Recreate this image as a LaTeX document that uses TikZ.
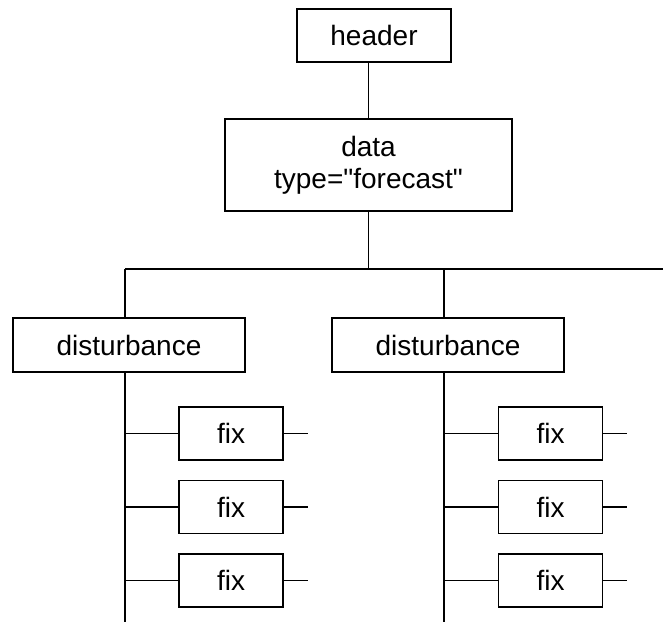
\documentclass[tikz,border=0pt]{standalone}
\usepackage{fontspec}
\newfontfamily\boxfont{Liberation Sans}
\usetikzlibrary{positioning}

\begin{document}
\begin{tikzpicture}[x=1pt,y=1pt,line width=1.5pt,node distance=19pt,box/.style={draw,line width=1.5pt,rectangle,inner sep=0pt,align=center,font=\boxfont\fontsize{28}{32}\selectfont},fixbox/.style={box,minimum width=104pt,minimum height=53pt},distbox/.style={box,minimum width=232pt,minimum height=54pt}]
  \useasboundingbox (0,0) rectangle (663,-622);
  \node[box,minimum width=154pt,minimum height=53pt] (header) at (374,-35.5) {header};
  \node[box,minimum width=287pt,minimum height=92pt] (data) at (368.5,-165) {data\\type="forecast"};
  \coordinate (t1) at (125,-269);
  \coordinate (t2) at (444,-269);
  \coordinate (busR) at (663,-269);
  \coordinate (b1) at (125,-622);
  \coordinate (b2) at (444,-622);
  \node[distbox] (dist1) at (129,-345) {disturbance};
  \node[distbox] (dist2) at (448,-345) {disturbance};
  \node[fixbox] (fix11) at (231,-433.5) {fix};
  \node[fixbox,below=of fix11] (fix12) {fix};
  \node[fixbox,below=of fix12] (fix13) {fix};
  \node[fixbox] (fix21) at (550.5,-433.5) {fix};
  \node[fixbox,below=of fix21] (fix22) {fix};
  \node[fixbox,below=of fix22] (fix23) {fix};
  \draw (data.north) -- (data.north |- header.south);
  \draw (data.south) -- (data.south |- t1);
  \draw (t1) -- (busR);
  \draw (t1) -- (t1 |- dist1.north);
  \draw (t2) -- (t2 |- dist2.north);
  \draw (t1 |- dist1.south) -- (b1);
  \draw (t2 |- dist2.south) -- (b2);
  \foreach \i/\t in {11/t1,12/t1,13/t1,21/t2,22/t2,23/t2} {
    \coordinate[right=24pt of fix\i.east] (stub\i);
    \draw (fix\i.west) -- (fix\i.west -| \t);
    \draw (fix\i.east) -- (stub\i);
  }
\end{tikzpicture}
\end{document}
